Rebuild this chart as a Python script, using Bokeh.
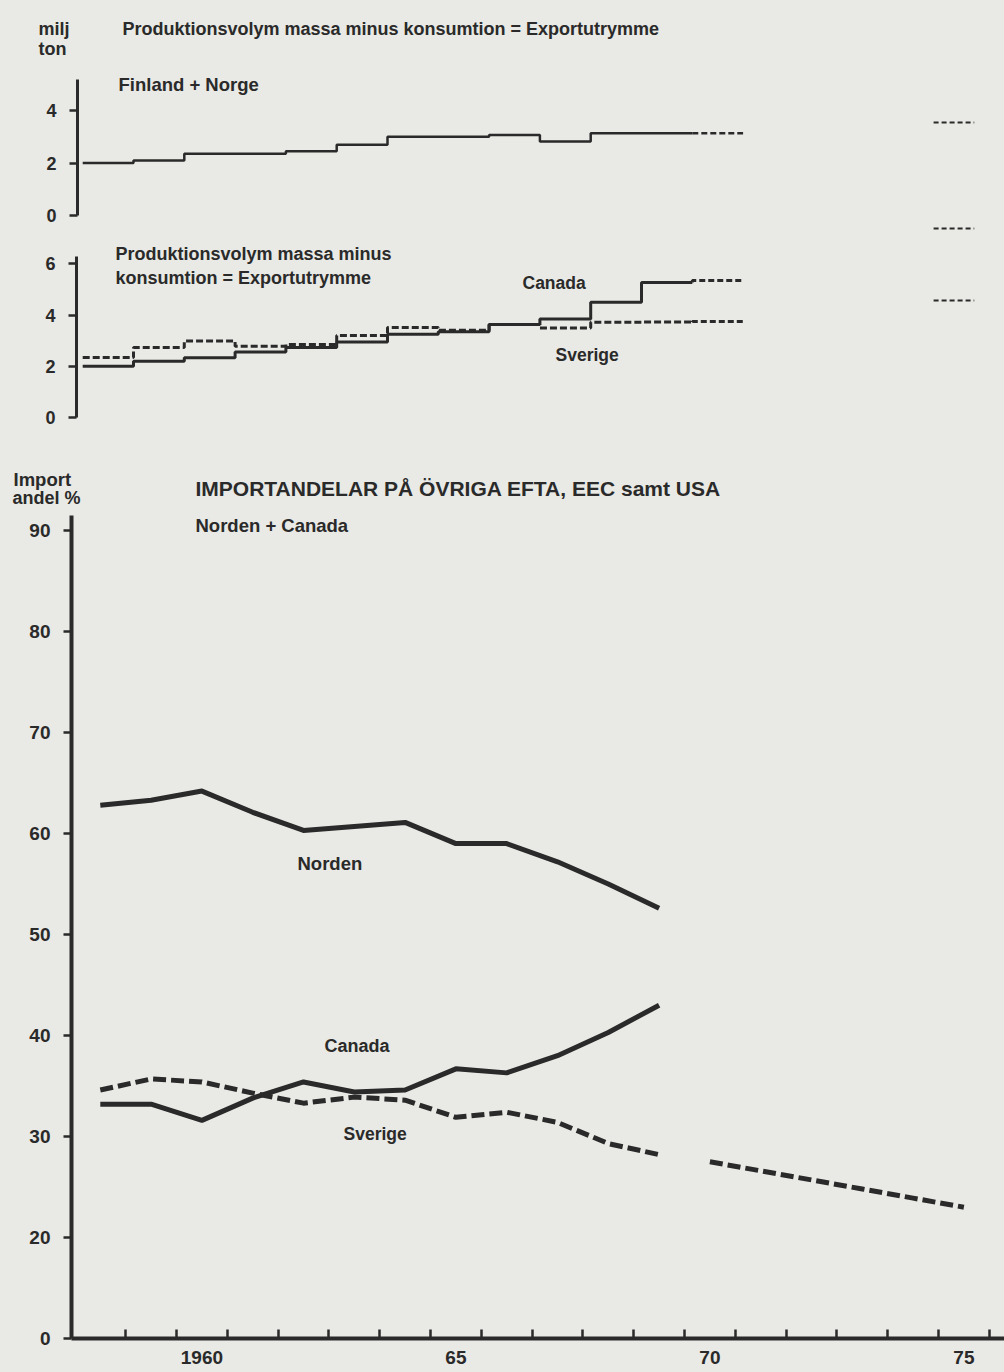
from bokeh.plotting import figure
from bokeh.models import Range1d, FixedTicker, Label
from bokeh.layouts import column
from bokeh.embed import file_html
from bokeh.resources import INLINE

# ---------------- data ----------------
# Export capacity (production volume of pulp minus consumption), million tons, per year (steps)
step_years = [1958, 1959, 1960, 1961, 1962, 1963, 1964, 1965, 1966, 1967, 1968, 1969]
finland_norge = [2.0, 2.1, 2.35, 2.35, 2.45, 2.7, 3.0, 3.0, 3.07, 2.82, 3.13, 3.13]
canada_exp = [2.0, 2.2, 2.33, 2.56, 2.73, 2.95, 3.25, 3.35, 3.63, 3.85, 4.5, 5.27]
sverige_exp = [2.34, 2.73, 2.99, 2.78, 2.85, 3.2, 3.52, 3.41, 3.63, 3.5, 3.72, 3.73]
proj_year = 1970
finland_norge_1970 = 3.13
canada_exp_1970 = 5.35
sverige_exp_1970 = 3.75
forecast_year = 1975
finland_norge_1975 = 3.54
canada_exp_1975 = 7.38
sverige_exp_1975 = 4.57

# Import shares (%) in other EFTA, EEC and USA
imp_years = [1958, 1959, 1960, 1961, 1962, 1963, 1964, 1965, 1966, 1967, 1968, 1969]
norden_share = [62.8, 63.3, 64.2, 62.1, 60.3, 60.7, 61.1, 59.0, 59.0, 57.2, 55.0, 52.6]
canada_share = [33.2, 33.2, 31.6, 33.8, 35.4, 34.4, 34.6, 36.7, 36.3, 38.0, 40.3, 43.0]
sverige_share = [34.6, 35.7, 35.4, 34.3, 33.3, 33.9, 33.6, 31.9, 32.4, 31.4, 29.3, 28.2]
proj_years = [1970, 1971, 1972, 1973, 1974, 1975]
sverige_share_proj = [27.5, 26.6, 25.7, 24.8, 23.9, 23.0]

x_tick_years = list(range(1959, 1977))
x_label_text = {1960: "1960", 1965: "65", 1970: "70", 1975: "75"}
top_ticks = [0, 2, 4]
mid_ticks = [0, 2, 4, 6]
imp_ticks = [10, 20, 30, 40, 50, 60, 70, 80, 90]
imp_tick_text = {10: "0"}

# ---------------- style ----------------
INK = "#2a2a2a"
BG = "#e9e9e5"
FONT = "Liberation Sans"
W = 1004
RIGHT = 1004  # page x of frame right


class Frame:
    def __init__(self, top, bottom, left, x_at_left, pxx, y_at_bottom, pxy):
        self.top, self.bottom, self.left = top, bottom, left
        self.x0, self.pxx, self.y0, self.pxy = x_at_left, pxx, y_at_bottom, pxy
        self.x1 = x_at_left + (RIGHT - left) / pxx
        self.y1 = y_at_bottom + (bottom - top) / pxy

    def X(self, px):
        return self.x0 + (px - self.left) / self.pxx

    def Y(self, py):
        return self.y0 + (self.bottom - py) / self.pxy


class ScreenFrame:
    """Header strip: data coordinates equal page pixels."""
    def X(self, px):
        return px

    def Y(self, py):
        return py


def style_common(p):
    p.grid.visible = False
    p.outline_line_color = None
    p.background_fill_color = BG
    p.border_fill_color = BG
    p.styles = {"background-color": BG}


def make_header(top, bottom):
    p = figure(width=W, height=bottom - top,
               x_range=Range1d(0, W), y_range=Range1d(bottom, top),
               output_backend="svg", toolbar_location=None,
               x_axis_location=None, y_axis_location=None,
               min_border_left=0, min_border_right=0,
               min_border_top=0, min_border_bottom=0, frame_align=False)
    style_common(p)
    return p


def make_fig(fr, height, bottom_border, xaxis):
    p = figure(width=W, height=height,
               x_range=Range1d(fr.x0, fr.x1), y_range=Range1d(fr.y0, fr.y1),
               output_backend="svg", toolbar_location=None,
               x_axis_location="below" if xaxis else None,
               min_border_left=fr.left, min_border_right=0,
               min_border_top=0, min_border_bottom=bottom_border,
               frame_align=False)
    style_common(p)
    for ax in p.yaxis:
        ax.axis_line_color = INK
        ax.major_tick_line_color = INK
        ax.major_tick_in = 0
        ax.major_tick_out = 8
        ax.minor_tick_line_color = None
        ax.major_label_text_font = FONT
        ax.major_label_text_font_style = "bold"
        ax.major_label_text_color = INK
        ax.major_label_standoff = 13
    return p


def label(p, fr, px, py, text, size, align="left"):
    p.add_layout(Label(x=fr.X(px), y=fr.Y(py), text=text, text_font=FONT,
                       text_font_size=f"{size}px", text_font_style="bold",
                       text_color=INK, text_align=align, text_baseline="middle"))


def step_series(p, vals, v70, lw, dash_main):
    xs = step_years + [step_years[-1] + 1]
    ys = vals + [vals[-1]]
    kw = dict(line_color=INK, line_width=lw)
    if dash_main:
        kw["line_dash"] = "7 3"
    p.step(xs, ys, mode="after", **kw)
    p.line([proj_year, proj_year, proj_year + 1], [vals[-1], v70, v70],
           line_color=INK, line_width=lw, line_dash="6 3")


def forecast_mark(p, v):
    p.segment(x0=[forecast_year - 0.25], x1=[forecast_year + 0.55], y0=[v], y1=[v],
              line_color=INK, line_width=2, line_dash="5 3")


scr = ScreenFrame()

# ---------------- header strip 1 ----------------
h1 = make_header(0, 62)
label(h1, scr, 38, 28, "milj", 18)
label(h1, scr, 38, 48, "ton", 18)
label(h1, scr, 122, 28, "Produktionsvolym massa minus konsumtion = Exportutrymme", 18)

# ---------------- top panel: Finland + Norge ----------------
frA = Frame(top=62, bottom=226, left=77, x_at_left=1959 + (77 - 133) / 50.8, pxx=50.8,
            y_at_bottom=-(226 - 215) / 26.25, pxy=26.25)
pA = make_fig(frA, 226 - 62, 0, False)
pA.yaxis.ticker = FixedTicker(ticks=top_ticks)
pA.yaxis.bounds = (0, 5.2)
pA.yaxis.axis_line_width = 3
pA.yaxis.major_tick_line_width = 2.5
pA.yaxis.major_label_text_font_size = "18px"
step_series(pA, finland_norge, finland_norge_1970, 2.5, False)
forecast_mark(pA, finland_norge_1975)
label(pA, frA, 118, 84, "Finland + Norge", 18.5)

# ---------------- middle panel: Canada / Sverige ----------------
frB = Frame(top=226, bottom=442, left=76, x_at_left=1959 + (76 - 133) / 50.8, pxx=50.8,
            y_at_bottom=-(442 - 417) / 25.6, pxy=25.6)
pB = make_fig(frB, 442 - 226, 0, False)
pB.yaxis.ticker = FixedTicker(ticks=mid_ticks)
pB.yaxis.bounds = (0, 6.3)
pB.yaxis.axis_line_width = 3
pB.yaxis.major_tick_line_width = 2.5
pB.yaxis.major_label_text_font_size = "18px"
step_series(pB, canada_exp, canada_exp_1970, 3, False)
step_series(pB, sverige_exp, sverige_exp_1970, 3, True)
forecast_mark(pB, canada_exp_1975)
forecast_mark(pB, sverige_exp_1975)
label(pB, frB, 115, 253, "Produktionsvolym massa minus", 18)
label(pB, frB, 115, 277, "konsumtion = Exportutrymme", 18)
label(pB, frB, 522, 282, "Canada", 17.5)
label(pB, frB, 555, 354, "Sverige", 17.5)

# ---------------- header strip 2 ----------------
h2 = make_header(442, 508)
label(h2, scr, 13, 479, "Import", 18.5)
label(h2, scr, 12, 497, "andel %", 18)
label(h2, scr, 195, 488, "IMPORTANDELAR PÅ ÖVRIGA EFTA, EEC samt USA", 21)

# ---------------- bottom panel: import shares ----------------
frC = Frame(top=508, bottom=1338, left=71, x_at_left=1960 + (71 - 176) / 50.8, pxx=50.8,
            y_at_bottom=10, pxy=10.1)
pC = make_fig(frC, 1372 - 508, 34, True)
pC.yaxis.ticker = FixedTicker(ticks=imp_ticks)
pC.yaxis.major_label_overrides = imp_tick_text
pC.yaxis.bounds = (10, 91.5)
pC.yaxis.axis_line_width = 4
pC.yaxis.major_tick_line_width = 2.5
pC.yaxis.major_label_text_font_size = "19px"

label_pos = [y + 0.5 for y in x_label_text]
xa = pC.xaxis[0]
xa.ticker = FixedTicker(ticks=label_pos, minor_ticks=x_tick_years)
xa.major_label_overrides = {y + 0.5: t for y, t in x_label_text.items()}
xa.axis_line_color = INK
xa.axis_line_width = 4
xa.major_tick_line_color = None
xa.major_tick_in = 0
xa.major_tick_out = 0
xa.minor_tick_line_color = INK
xa.minor_tick_line_width = 2.5
xa.minor_tick_in = 9
xa.minor_tick_out = 0
xa.major_label_text_font = FONT
xa.major_label_text_font_style = "bold"
xa.major_label_text_font_size = "19px"
xa.major_label_text_color = INK
xa.major_label_standoff = 12

mid = [y + 0.5 for y in imp_years]
pC.line(mid, norden_share, line_color=INK, line_width=5, line_join="round")
pC.line(mid, canada_share, line_color=INK, line_width=5, line_join="round")
pC.line(mid, sverige_share, line_color=INK, line_width=5, line_join="round", line_dash="13 5")
pC.line([y + 0.5 for y in proj_years], sverige_share_proj, line_color=INK, line_width=5,
        line_dash="13 5")

label(pC, frC, 195, 525, "Norden + Canada", 18.5)
label(pC, frC, 297, 863, "Norden", 18.5)
label(pC, frC, 324, 1045, "Canada", 18)
label(pC, frC, 343, 1133, "Sverige", 17.5)

page = column(h1, pA, pB, h2, pC, spacing=0, styles={"background-color": BG})
open("out.html", "w").write(file_html(page, INLINE))
